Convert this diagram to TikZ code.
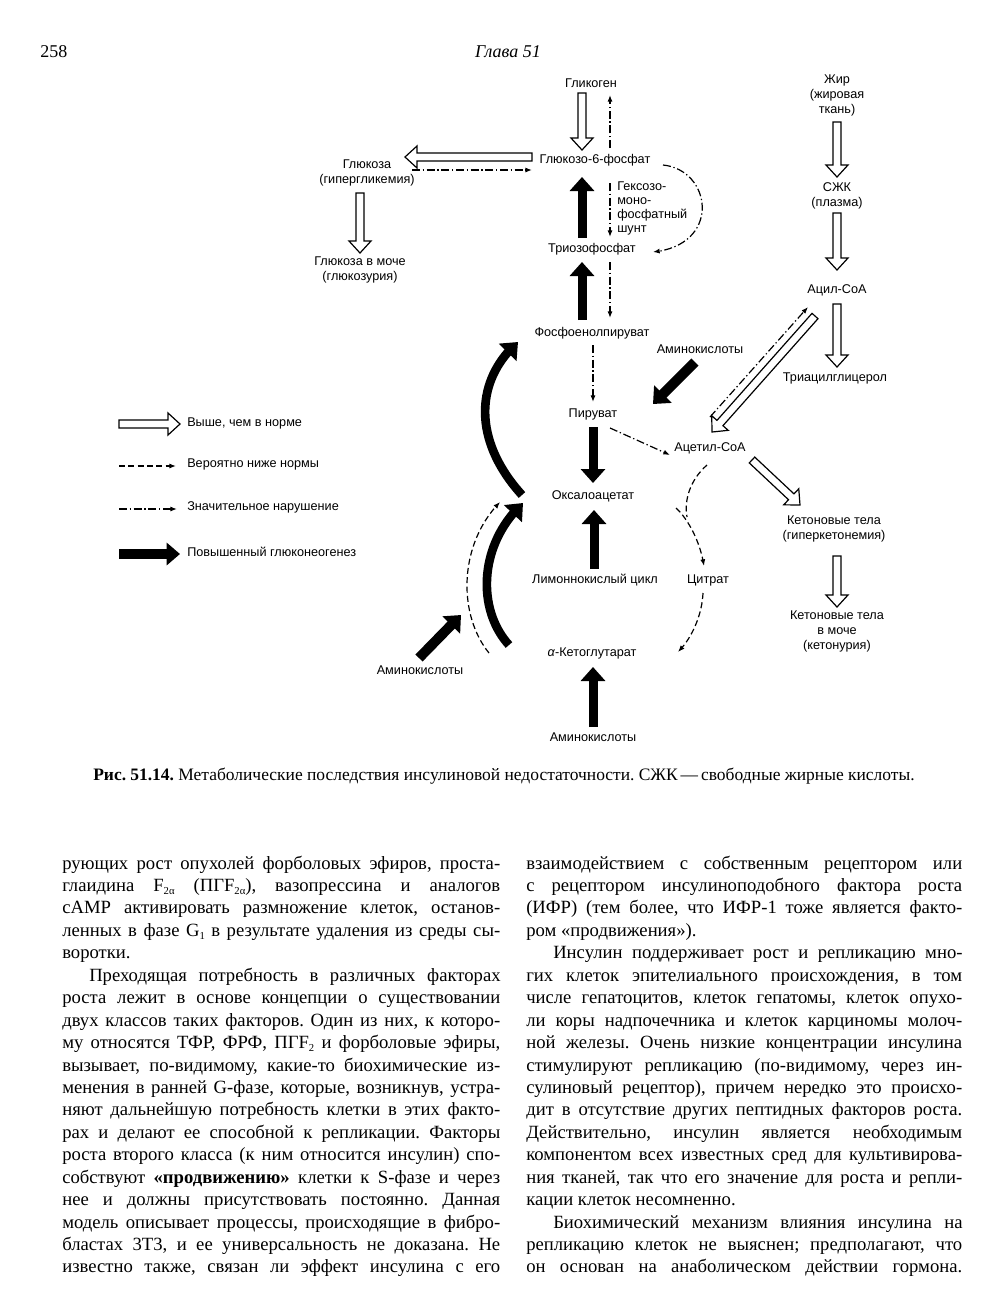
\documentclass[tikz,border=0pt]{standalone}
\usepackage{fontspec}
\setmainfont{Liberation Serif}
\newfontfamily\diagfont{Liberation Sans}
\usetikzlibrary{arrows.meta,calc,bending}
\frenchspacing
\newcommand\bodyfont{\fontsize{14}{16.8}\selectfont}
\newcommand\mysub[1]{\raisebox{-0.35ex}{\fontsize{8}{8}\selectfont #1}}
% justified line: name, x, y, width, text
\newcommand\jline[5]{\node[txt] (#1) at (#2,#3) {\makebox[#4][s]{#5}};}
% plain line
\newcommand\pline[4]{\node[txt] (#1) at (#2,#3) {#4};}
% open (outlined) arrow from coordinate #2 to coordinate #3
\newcommand\openarr[3][]{%
  \coordinate (oaH) at ($(#3)!9pt!(#2)$);
  \draw[oarr,#1] ($(#2)!3pt!90:(#3)$) -- ($(oaH)!3pt!90:(#3)$) -- ($(oaH)!8.25pt!90:(#3)$)
     -- (#3) -- ($(oaH)!8.25pt!-90:(#3)$) -- ($(oaH)!3pt!-90:(#3)$) -- ($(#2)!3pt!-90:(#3)$) -- cycle;}
\begin{document}
\begin{tikzpicture}[x=0.75pt,y=-0.75pt,
  lbl/.style={font=\diagfont\fontsize{9.5}{11.25}\selectfont, align=center, inner sep=0pt},
  lblL/.style={lbl, anchor=west, align=left},
  txt/.style={anchor=base west, inner sep=0pt, font=\bodyfont},
  oarr/.style={draw=black, line width=0.9pt, fill=white, line join=miter},
  thk/.style={line width=6.75pt, -{Triangle[length=10.5pt,width=18pt]}},
  thkc/.style={line width=6.5pt, -{Triangle[length=11pt,width=18pt,flex]}},
  thin/.style={line width=0.9pt, -{Latex[length=5pt,width=3.8pt]}},
  dsh/.style={thin, dash pattern=on 4.5pt off 2.5pt},
  dd/.style={thin, dash pattern=on 6pt off 2pt on 1pt off 2pt},
]
\useasboundingbox (0,0) rectangle (1003,1300);
\fill[white] (0,0) rectangle (1003,1300);

% ---------- header ----------
\node[anchor=base west, inner sep=0pt, font=\fontsize{13.5}{15}\selectfont] (pgno) at (40,57) {258};
\node[anchor=base, inner sep=0pt, font=\itshape\fontsize{13.5}{15}\selectfont] (chap) at (508,57) {Глава 51};

% ---------- diagram labels ----------
\node[lbl] (glik) at (591,83) {Гликоген};
\node[lbl] (g6p) at (595,160) {Глюкозо-6-фосфат};
\node[lbl] (gluc) at (367,173) {Глюкоза\\(гипергликемия)};
\node[lbl] (glucu) at (360,270) {Глюкоза в моче\\(глюкозурия)};
\node[lblL, font=\diagfont\fontsize{9.5}{10.5}\selectfont] (hmp) at (617,208.5) {Гексозо-\\моно-\\фосфатный\\шунт};
\node[lbl] (trio) at (592,249) {Триозофосфат};
\node[lbl] (pep) at (592,333) {Фосфоенолпируват};
\node[lbl] (pyr) at (593,414) {Пируват};
\node[lbl] (oaa) at (593,496) {Оксалоацетат};
\node[lbl] (aa1) at (700,349) {Аминокислоты};
\node[lbl] (acoa) at (710,448) {Ацетил-СоА};
\node[lbl] (fat) at (837,95) {Жир\\(жировая\\ткань)};
\node[lbl] (ffa) at (837,195.5) {СЖК\\(плазма)};
\node[lbl] (acyl) at (837,290) {Ацил-СоА};
\node[lbl] (tag) at (835,378) {Триацилглицерол};
\node[lbl] (ket) at (834,529) {Кетоновые тела\\(гиперкетонемия)};
\node[lbl] (ketu) at (837,631) {Кетоновые тела\\в моче\\(кетонурия)};
\node[lbl] (lim) at (595,580) {Лимоннокислый цикл};
\node[lbl] (cit) at (708,580) {Цитрат};
\node[lbl] (akg) at (592,653) {\textit{α}-Кетоглутарат};
\node[lbl] (aa2) at (593,737) {Аминокислоты};
\node[lbl] (aa3) at (420,670) {Аминокислоты};

% ---------- legend ----------
\node[lblL] (leg1) at (187,423) {Выше, чем в норме};
\node[lblL] (leg2) at (187,464) {Вероятно ниже нормы};
\node[lblL] (leg3) at (187,507) {Значительное нарушение};
\node[lblL] (leg4) at (187,552) {Повышенный глюконеогенез};
\coordinate (l1a) at (119,424); \coordinate (l1b) at (180,424);
\coordinate (l2a) at (119,466); \coordinate (l2b) at (176,466);
\coordinate (l3a) at (119,509); \coordinate (l3b) at (177,509);
\coordinate (l4a) at (119,554); \coordinate (l4b) at (180,554);
\openarr{l1a}{l1b}
\draw[dsh] (l2a) -- (l2b);
\draw[dd] (l3a) -- (l3b);
\draw[line width=7.5pt, -{Triangle[length=10pt,width=16.5pt]}] (l4a) -- (l4b);

% ---------- connector end points ----------
\coordinate (a1) at (582,93);  \coordinate (b1) at (582,150);
\coordinate (a2) at (610,148); \coordinate (b2) at (610,95);
\coordinate (a3) at (532,157); \coordinate (b3) at (405,157);
\coordinate (a4) at (412,170); \coordinate (b4) at (532,170);
\coordinate (a5) at (360,193); \coordinate (b5) at (360,253);
\coordinate (a6) at (663,165); \coordinate (b6) at (653,252);
\coordinate (a7) at (582,238); \coordinate (b7) at (582,177);
\coordinate (a8) at (610,183); \coordinate (b8) at (610,237);
\coordinate (a9) at (582,320); \coordinate (b9) at (582,262);
\coordinate (a10) at (610,262); \coordinate (b10) at (610,318);
\coordinate (a11) at (593,345); \coordinate (b11) at (593,402);
\coordinate (a12) at (593,427); \coordinate (b12) at (593,483);
\coordinate (a13) at (610,428); \coordinate (b13) at (670,455);
\coordinate (a14) at (695,362); \coordinate (b14) at (653,404);
\coordinate (a15) at (815,316); \coordinate (b15) at (712,432);
\coordinate (a16) at (710,417); \coordinate (b16) at (808,307);
\coordinate (a17) at (837,304); \coordinate (b17) at (837,367);
\coordinate (a18) at (837,122); \coordinate (b18) at (837,177);
\coordinate (a19) at (837,213); \coordinate (b19) at (837,270);
\coordinate (a20) at (752,460); \coordinate (b20) at (800,505);
\coordinate (a21) at (837,556); \coordinate (b21) at (837,607);
\coordinate (a22) at (707,465); \coordinate (junc) at (687,517);
\coordinate (a23) at (676,508); \coordinate (b23) at (704,566);
\coordinate (a24) at (703,593); \coordinate (b24) at (678,652);
\coordinate (a25) at (593,727); \coordinate (b25) at (593,667);
\coordinate (a26) at (594,569); \coordinate (b26) at (594,510);
\coordinate (a27) at (522,495); \coordinate (b27) at (518,342);
\coordinate (a28) at (509,645); \coordinate (b28) at (523,503);
\coordinate (a29) at (489,653); \coordinate (b29) at (500,502);
\coordinate (a30) at (419,658); \coordinate (b30) at (461,615);

% ---------- connectors ----------
\openarr{a1}{b1}
\draw[dd] (a2) -- (b2);
\openarr{a3}{b3}
\draw[dd] (a4) -- (b4);
\openarr{a5}{b5}
\draw[dd] (a6) .. controls (712,170) and (722,245) .. (b6);
\draw[thk] (a7) -- (b7);
\draw[dd] (a8) -- (b8);
\draw[thk] (a9) -- (b9);
\draw[dd] (a10) -- (b10);
\draw[dd] (a11) -- (b11);
\draw[thk] (a12) -- (b12);
\draw[dd] (a13) -- (b13);
\draw[thk, line width=7.5pt] (a14) -- (b14);
\openarr{a15}{b15}
\draw[dd] (a16) -- (b16);
\openarr{a17}{b17}
\openarr{a18}{b18}
\openarr{a19}{b19}
\openarr{a20}{b20}
\openarr{a21}{b21}
\draw[dsh, -] (a22) .. controls (690,480) and (684,500) .. (junc);
\draw[dsh] (a23) .. controls (687,518) and (700,540) .. (b23);
\draw[dsh] (a24) .. controls (702,615) and (692,638) .. (b24);
\draw[thk] (a25) -- (b25);
\draw[thk] (a26) -- (b26);
\draw[thkc] (a27) .. controls (472,440) and (475,380) .. (b27);
\draw[thkc] (a28) .. controls (477,610) and (478,545) .. (b28);
\draw[dsh] (a29) .. controls (458,615) and (458,545) .. (b29);
\draw[thk, line width=7.5pt] (a30) -- (b30);

% ---------- caption ----------
\node[anchor=base west, inner sep=0pt, font=\fontsize{13.1}{15}\selectfont] (cap) at (93,780)
  {\makebox[616pt][s]{\textbf{Рис. 51.14.} Метаболические последствия инсулиновой недостаточности. СЖК\,—\,свободные жирные кислоты.}};

% ---------- left column ----------
\jline{L1}{62}{869}{328.5pt}{рующих рост опухолей форболовых эфиров, проста-}
\jline{L2}{62}{891.4}{328.5pt}{глаидина F\mysub{2α} (ПГF\mysub{2α}), вазопрессина и аналогов}
\jline{L3}{62}{913.9}{328.5pt}{cAMP активировать размножение клеток, останов-}
\jline{L4}{62}{936.3}{328.5pt}{ленных в фазе G\mysub{1} в результате удаления из среды сы-}
\pline{L5}{62}{958.8}{воротки.}
\jline{L6}{89}{981.2}{308.5pt}{Преходящая потребность в различных факторах}
\jline{L7}{62}{1003.6}{328.5pt}{роста лежит в основе концепции о существовании}
\jline{L8}{62}{1026.1}{328.5pt}{двух классов таких факторов. Один из них, к которо-}
\jline{L9}{62}{1048.5}{328.5pt}{му относятся ТФР, ФРФ, ПГF\mysub{2} и форболовые эфиры,}
\jline{L10}{62}{1071.0}{328.5pt}{вызывает, по-видимому, какие-то биохимические из-}
\jline{L11}{62}{1093.4}{328.5pt}{менения в ранней G-фазе, которые, возникнув, устра-}
\jline{L12}{62}{1115.8}{328.5pt}{няют дальнейшую потребность клетки в этих факто-}
\jline{L13}{62}{1138.3}{328.5pt}{рах и делают ее способной к репликации. Факторы}
\jline{L14}{62}{1160.7}{328.5pt}{роста второго класса (к ним относится инсулин) спо-}
\jline{L15}{62}{1183.2}{328.5pt}{собствуют \textbf{«продвижению»} клетки к S-фазе и через}
\jline{L16}{62}{1205.6}{328.5pt}{нее и должны присутствовать постоянно. Данная}
\jline{L17}{62}{1228.0}{328.5pt}{модель описывает процессы, происходящие в фибро-}
\jline{L18}{62}{1250.5}{328.5pt}{бластах 3Т3, и ее универсальность не доказана. Не}
\jline{L19}{62}{1272.9}{328.5pt}{известно также, связан ли эффект инсулина с его}

% ---------- right column ----------
\jline{R1}{526}{869}{327pt}{взаимодействием с собственным рецептором или}
\jline{R2}{526}{891.4}{327pt}{с рецептором инсулиноподобного фактора роста}
\jline{R3}{526}{913.9}{327pt}{(ИФР) (тем более, что ИФР-1 тоже является факто-}
\pline{R4}{526}{936.3}{ром «продвижения»).}
\jline{R5}{553}{958.8}{307pt}{Инсулин поддерживает рост и репликацию мно-}
\jline{R6}{526}{981.2}{327pt}{гих клеток эпителиального происхождения, в том}
\jline{R7}{526}{1003.6}{327pt}{числе гепатоцитов, клеток гепатомы, клеток опухо-}
\jline{R8}{526}{1026.1}{327pt}{ли коры надпочечника и клеток карциномы молоч-}
\jline{R9}{526}{1048.5}{327pt}{ной железы. Очень низкие концентрации инсулина}
\jline{R10}{526}{1071.0}{327pt}{стимулируют репликацию (по-видимому, через ин-}
\jline{R11}{526}{1093.4}{327pt}{сулиновый рецептор), причем нередко это происхо-}
\jline{R12}{526}{1115.8}{327pt}{дит в отсутствие других пептидных факторов роста.}
\jline{R13}{526}{1138.3}{327pt}{Действительно, инсулин является необходимым}
\jline{R14}{526}{1160.7}{327pt}{компонентом всех известных сред для культивирова-}
\jline{R15}{526}{1183.2}{327pt}{ния тканей, так что его значение для роста и репли-}
\pline{R16}{526}{1205.6}{кации клеток несомненно.}
\jline{R17}{553}{1228.0}{307pt}{Биохимический механизм влияния инсулина на}
\jline{R18}{526}{1250.5}{327pt}{репликацию клеток не выяснен; предполагают, что}
\jline{R19}{526}{1272.9}{327pt}{он основан на анаболическом действии гормона.}
\end{tikzpicture}
\end{document}
